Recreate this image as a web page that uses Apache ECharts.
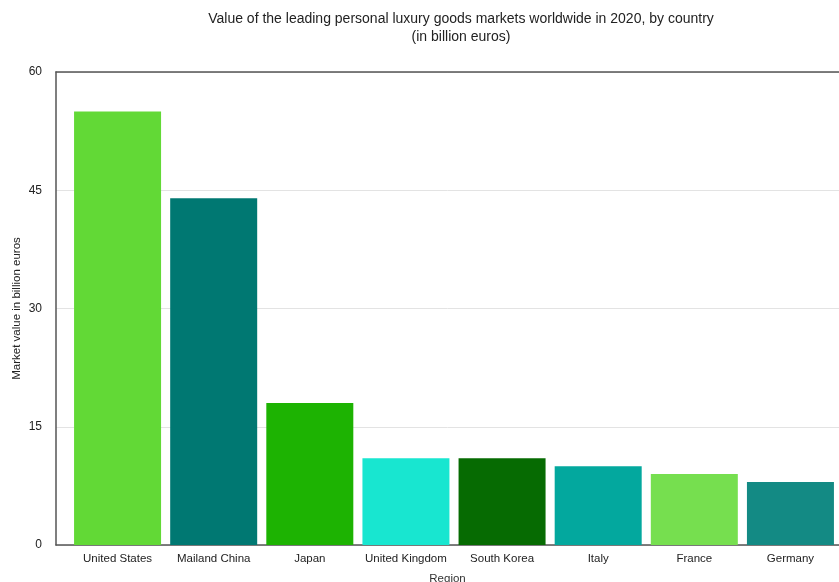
<!DOCTYPE html>
<html>
<head>
<meta charset="utf-8">
<script src="https://cdn.jsdelivr.net/npm/echarts@6/dist/echarts.min.js"></script>
<style>
  html, body { margin: 0; padding: 0; background: #fff; }
  #main { width: 839px; height: 582px; }
</style>
</head>
<body>
<div id="main"></div>
<script>
// data
const regions = ['United States', 'Mailand China', 'Japan', 'United Kingdom', 'South Korea', 'Italy', 'France', 'Germany'];
const values = [55, 44, 18, 11, 11, 10, 9, 8];
const barColors = ['#62d936', '#007872', '#1db302', '#18e6d0', '#066b02', '#03a89e', '#76df4f', '#138a84'];
const yTicks = { min: 0, max: 60, interval: 15 };

const font = 'Liberation Sans, Arial, Helvetica, sans-serif';
const chart = echarts.init(document.getElementById('main'));

chart.setOption({
  animation: false,
  textStyle: { fontFamily: font },
  title: {
    text: 'Value of the leading personal luxury goods markets worldwide in 2020, by country\n(in billion euros)',
    left: 456,
    top: 5,
    textAlign: 'center',
    textStyle: { fontSize: 14, fontWeight: 'normal', color: '#222', lineHeight: 18, fontFamily: font }
  },
  grid: [
    // frame grid: y axis, split lines, axis lines
    { left: 56, right: 0, top: 72, bottom: 37, outerBoundsMode: 'none' },
    // bar grid, the bands start a bit right of the y axis
    { left: 69.5, width: 769, top: 72, bottom: 37, outerBoundsMode: 'none' }
  ],
  xAxis: [
    {
      gridIndex: 0, type: 'value', min: 0, max: 1,
      axisLine: { show: true, lineStyle: { color: '#555', width: 1.5 } },
      axisTick: { show: false }, axisLabel: { show: false }, splitLine: { show: false },
      name: 'Region', nameLocation: 'middle', nameGap: 28,
      nameTextStyle: { fontSize: 11.5, color: '#333' }
    },
    {
      gridIndex: 0, type: 'value', min: 0, max: 1, position: 'top',
      axisLine: { show: true, lineStyle: { color: '#555', width: 1.5 } },
      axisTick: { show: false }, axisLabel: { show: false }, splitLine: { show: false }
    },
    {
      gridIndex: 1, type: 'category', data: regions,
      axisLine: { show: false }, axisTick: { show: false },
      axisLabel: { fontSize: 11.5, color: '#222', margin: 8, interval: 0 }
    }
  ],
  yAxis: [
    {
      gridIndex: 0, type: 'value', min: yTicks.min, max: yTicks.max, interval: yTicks.interval,
      axisLine: { show: true, lineStyle: { color: '#555', width: 1.5 } },
      axisTick: { show: false },
      axisLabel: { fontSize: 12, color: '#222', margin: 14 },
      splitLine: { show: true, lineStyle: { color: '#e3e3e3', width: 1 } },
      name: 'Market value in billion euros', nameLocation: 'middle', nameGap: 33,
      nameMoveOverlap: false,
      nameTextStyle: { fontSize: 11.5, color: '#222' }
    },
    {
      gridIndex: 1, type: 'value', min: yTicks.min, max: yTicks.max, interval: yTicks.interval,
      show: false, splitLine: { show: false }
    }
  ],
  series: [{
    type: 'bar',
    xAxisIndex: 2,
    yAxisIndex: 1,
    data: values.map((v, i) => ({ value: v, itemStyle: { color: barColors[i] } })),
    barWidth: 87
  }]
});
</script>
</body>
</html>
